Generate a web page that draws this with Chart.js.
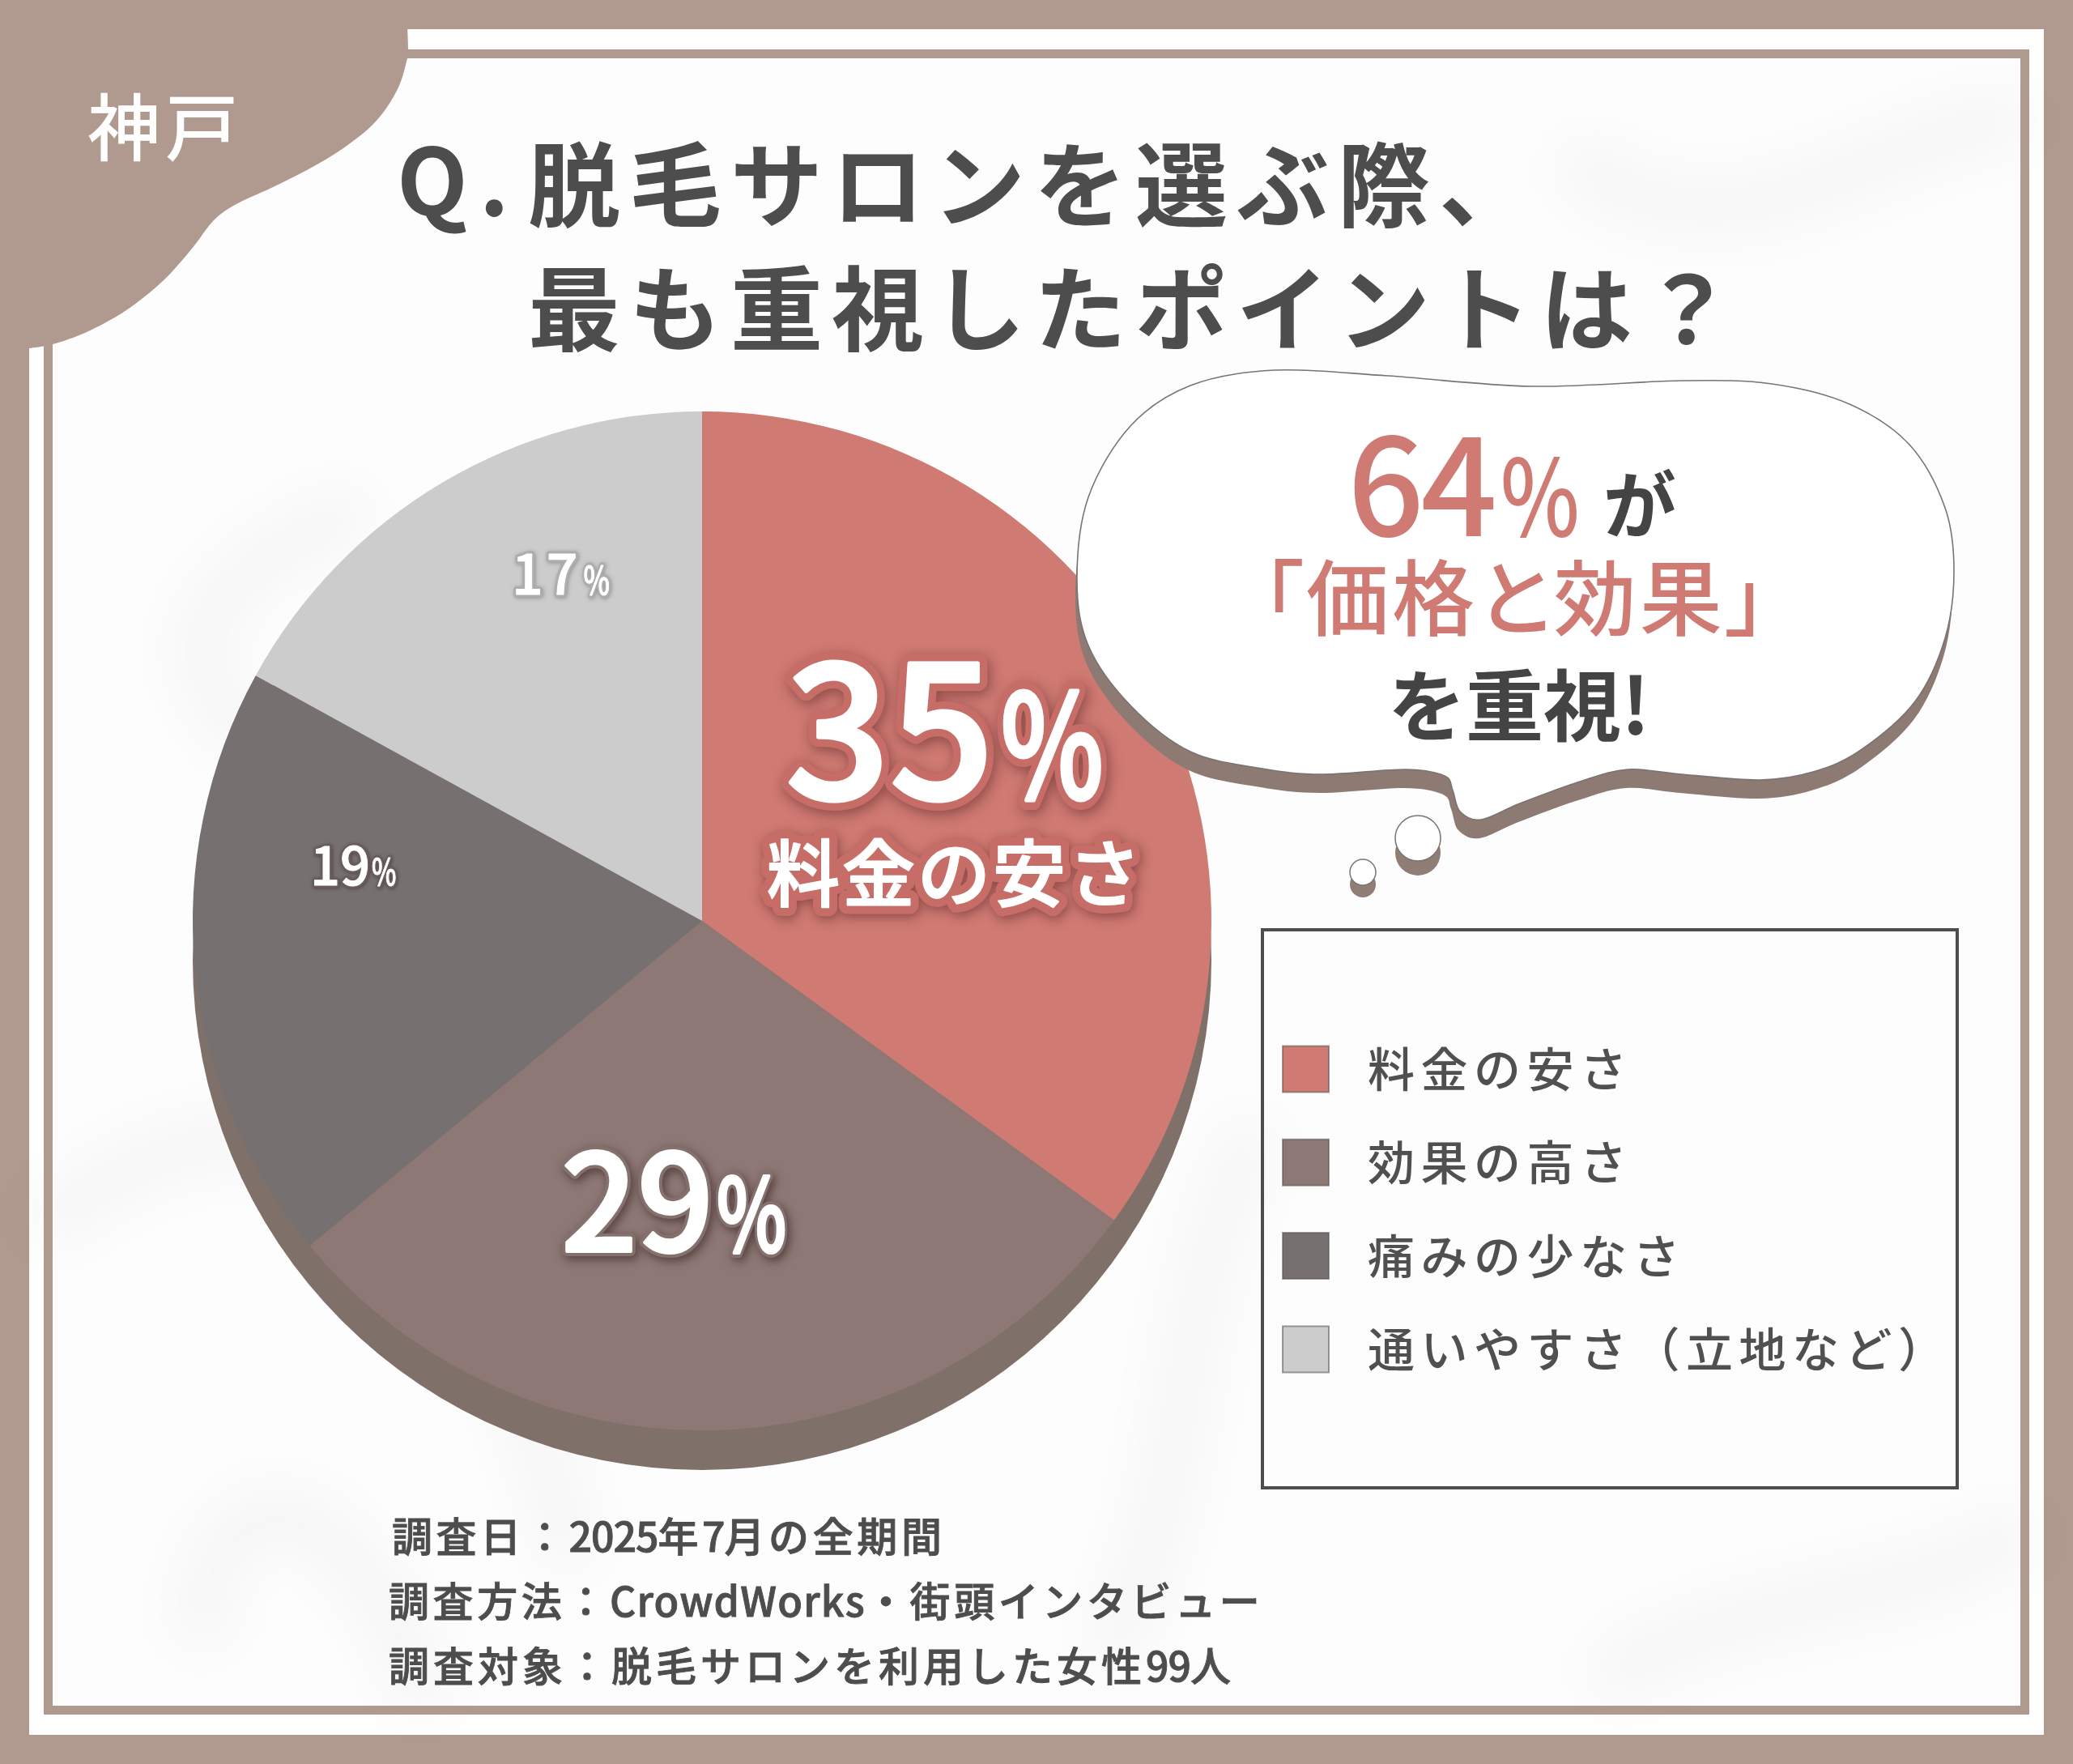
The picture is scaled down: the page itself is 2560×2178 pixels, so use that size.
<!DOCTYPE html>
<html lang="ja">
<head>
<meta charset="utf-8">
<title>脱毛サロン 神戸</title>
<script src="https://cdn.jsdelivr.net/npm/chart.js@4"></script>
<style>
html,body{margin:0;padding:0;background:#b09a90;}
#stage{position:relative;width:2560px;height:2178px;overflow:hidden;background:#b09a90;font-family:"Noto Sans CJK JP",sans-serif;}
#bg,#over{position:absolute;left:0;top:0;width:2560px;height:2178px;}
#c{position:absolute;left:0;top:0;}
.t{position:absolute;white-space:nowrap;line-height:1;}
.title{font-size:114px;font-weight:700;color:#4d4d4d;letter-spacing:11px;}
.foot{font-size:50px;font-weight:500;color:#4d4d4d;letter-spacing:4.6px;-webkit-text-stroke:.9px #4d4d4d;}
.foot b{font-weight:500;letter-spacing:-1px;}
.foot i{font-style:normal;letter-spacing:1.2px;}
.pink{color:#cf7a72;}
.dark{color:#444;}
</style>
</head>
<body>
<div id="stage">
<svg id="bg" viewBox="0 0 2560 2178">
  <defs>
    <filter id="blur" x="-30%" y="-30%" width="160%" height="160%"><feGaussianBlur stdDeviation="30"/></filter>
  </defs>
  <rect x="36" y="36" width="2488" height="2106" fill="#fefefe"/>
  <rect x="65" y="72" width="2430" height="2034" fill="#fdfdfd"/>
  <g filter="url(#blur)" fill="none" stroke="#000" stroke-opacity="0.028" stroke-width="70" stroke-linecap="round">
    <path d="M70 1500 C 300 1330, 560 1360, 700 1900"/>
    <path d="M250 2000 C 260 1850, 400 1780, 520 2080"/>
    <path d="M300 900 C 200 800, 250 720, 420 640"/>
    <path d="M1960 210 C 2150 330, 2300 180, 2470 150"/>
    <path d="M1380 2020 C 1480 1800, 1440 1650, 1540 1420"/>
    <path d="M2000 2060 C 2200 1960, 2350 1980, 2480 1900"/>
  </g>
  <g fill="none" stroke="#b09a90">
    <rect x="59.5" y="66.5" width="2441" height="2045" stroke-width="11"/>
  </g>
</svg>
<canvas id="c" width="2560" height="2178"></canvas>
<svg id="over" viewBox="0 0 2560 2178">
  <path id="blob" fill="#b09a90"/>
  <path id="bubbleShade" fill="#8c7a73"/>
  <path id="bubble" fill="#ffffff" stroke="#7a7371" stroke-width="1.6"/>
  <circle cx="1751" cy="1053" r="28" fill="#8f7d76"/>
  <circle cx="1751" cy="1035" r="28" fill="#ffffff" stroke="#7a7371" stroke-width="1.5"/>
  <circle cx="1683" cy="1092" r="16" fill="#8f7d76"/>
  <circle cx="1683" cy="1077" r="16" fill="#ffffff" stroke="#7a7371" stroke-width="1.5"/>
</svg>

<div class="t" style="left:108px;top:107px;font-size:90px;font-weight:500;color:#fff;letter-spacing:6px;">神戸</div>

<div class="t title" style="left:490px;top:160px;letter-spacing:14px;">Q.</div>
<div class="t title" style="left:652px;top:165px;">脱毛サロンを選ぶ際、</div>
<div class="t title" style="left:652px;top:318px;">最も重視したポイントは？</div>

<div class="t pink" style="left:1664px;top:507px;font-size:166px;font-weight:500;letter-spacing:-4px;">64<span style="display:inline-block;font-size:130px;transform:scaleX(.8);transform-origin:left bottom;letter-spacing:0;margin-left:8px;width:88px;">%</span></div>
<div class="t dark" style="left:1980px;top:573px;font-size:90px;font-weight:700;">が</div>
<div class="t pink" style="left:1558px;top:682px;font-size:102px;font-weight:500;letter-spacing:4px;font-feature-settings:'palt';">「価格と効果」</div>
<div class="t dark" style="left:1714px;top:818px;font-size:96px;font-weight:700;">を重視!</div>

<div class="t foot" style="left:484px;top:1869px;">調査日：<b>2025</b>年<b>7</b>月の全期間</div>
<div class="t foot" style="left:480px;top:1949px;">調査方法：<i>CrowdWorks</i>・街頭インタビュー</div>
<div class="t foot" style="left:480px;top:2029px;letter-spacing:5px;">調査対象：脱毛サロンを利用した女性<b>99</b>人</div>
</div>

<script>
const categories = ['料金の安さ', '効果の高さ', '痛みの少なさ', '通いやすさ（立地など）'];
const shareValues = [35, 29, 19, 17];
const sliceColors = ['#cf7a72', '#8d7875', '#767170', '#cccccc'];
const depthColor = '#80706a';
const depthOffset = 49;
const topLabel = '料金の安さ';

const labelStyle = [
  {dx:103, dy:-151, size:226, pctSize:178, pctScale:.76, gap:8, ls:0,  weight:500, fatten:5, halo:'#c56d66', haloW:24, shadow:'rgba(100,45,45,.6)', blur:16, ox:3, oy:5},
  {dx:-174, dy:408, size:165, pctSize:124, pctScale:.74, gap:4, ls:0,  weight:500, fatten:4, halo:'#84706d', haloW:12, shadow:'rgba(50,30,30,.65)', blur:12, ox:3, oy:4},
  {dx:-484, dy:-44, size:65,  pctSize:45,  pctScale:.72, gap:2, ls:0,  weight:500, fatten:1, halo:'#685c5c', haloW:6,  shadow:'rgba(60,40,40,.6)', blur:4, ox:1, oy:1},
  {dx:-235, dy:-403,size:68,  pctSize:48,  pctScale:.72, gap:3, ls:4,  weight:500, fatten:1, halo:'#adadad', haloW:7,  shadow:'rgba(90,90,90,.5)', blur:5, ox:1, oy:1}
];
const FONT = '"Noto Sans CJK JP", sans-serif';

const smooth = (p, closed) => {
  const n = p.length, at = i => closed ? p[(i + n) % n] : p[Math.max(0, Math.min(n - 1, i))];
  let d = 'M' + p[0][0] + ' ' + p[0][1];
  for (let i = 0; i < (closed ? n : n - 1); i++) {
    const a = at(i - 1), b = at(i), c = at(i + 1), e = at(i + 2);
    d += ' C' + (b[0] + (c[0] - a[0]) / 6) + ' ' + (b[1] + (c[1] - a[1]) / 6) + ',' +
         (c[0] - (e[0] - b[0]) / 6) + ' ' + (c[1] - (e[1] - b[1]) / 6) + ',' + c[0] + ' ' + c[1];
  }
  return d;
};
const blobEdge = [[503,30],[504,61],[503,72],[491,110],[464,150],[424,183],[379,210],[335,232],[290,253],[263,273],[237,307],[201,347],[156,383],[107,410],[65,425],[36,430]];
document.getElementById('blob').setAttribute('d', 'M0 0 L503 0 L' + smooth(blobEdge, false).slice(1) + ' L36 430 L0 432 Z');
const bubbleEdge = [[1574,457],[1714,464],[1892,477],[2077,470],[2188,474],[2284,499],[2358,549],[2402,627],[2413,705],[2402,788],[2365,866],[2298,926],[2239,953],[2173,963],[2077,956],[2010,950],[1951,965],[1877,992],[1829,1012],[1803,1002],[1794,976],[1784,958],[1736,950],[1633,956],[1559,949],[1470,928],[1396,871],[1344,797],[1330,715],[1344,614],[1396,526],[1470,476]];
const bubbleD = smooth(bubbleEdge, true) + ' Z';
document.getElementById('bubble').setAttribute('d', bubbleD);
const shade = document.getElementById('bubbleShade');
shade.setAttribute('d', bubbleD);
shade.setAttribute('transform', 'translate(-2 23)');

const depthPlugin = {
  id: 'depth',
  afterLayout(chart) {
    const a = chart.chartArea;
    a.left = 238; a.right = 1496; a.top = 508; a.bottom = 1766; a.width = 1258; a.height = 1258;
    const lg = chart.legend, pad = lg.options.labels.padding, colH = lg.columnSizes[0].height, firstRow = 1291;
    lg.left = 1584 - pad; lg.right = 2418; lg.top = firstRow - pad; lg.bottom = firstRow + colH;
  },
  beforeDraw(chart) {
    const ctx = chart.ctx;
    ctx.letterSpacing = '7.5px';
    ctx.save();
    ctx.strokeStyle = '#4d4d4d'; ctx.lineWidth = 4;
    ctx.strokeRect(1559, 1148, 858, 689);
    ctx.restore();
  },
  beforeDatasetsDraw(chart) {
    const ctx = chart.ctx, el = chart.getDatasetMeta(0).data[0];
    ctx.letterSpacing = '0px';
    ctx.save();
    ctx.fillStyle = depthColor;
    ctx.beginPath();
    ctx.arc(el.x, el.y + depthOffset, el.outerRadius, 0, Math.PI * 2);
    ctx.fill();
    ctx.restore();
  },
  afterDatasetsDraw(chart) {
    const ctx = chart.ctx, meta = chart.getDatasetMeta(0);
    shareValues.forEach((v, i) => {
      const s = labelStyle[i], el = meta.data[i], x = el.x + s.dx, y = el.y + s.dy;
      const parts = (op) => {
        ctx.letterSpacing = s.ls + 'px';
        ctx.font = s.weight + ' ' + s.size + 'px ' + FONT;
        const txt = String(v), w = ctx.measureText(txt).width;
        op(txt, x, y, 1);
        ctx.letterSpacing = '0px';
        ctx.font = s.weight + ' ' + s.pctSize + 'px ' + FONT;
        op('%', x + w + s.gap, y, s.pctScale);
      };
      ctx.save();
      ctx.textAlign = 'left'; ctx.textBaseline = 'alphabetic'; ctx.lineJoin = 'round'; ctx.lineCap = 'round';
      ctx.shadowColor = s.shadow; ctx.shadowBlur = s.blur; ctx.shadowOffsetX = s.ox; ctx.shadowOffsetY = s.oy;
      ctx.strokeStyle = s.halo; ctx.lineWidth = s.haloW;
      parts((t, px, py, sx) => { ctx.save(); ctx.translate(px, py); ctx.scale(sx, 1); ctx.strokeText(t, 0, 0); ctx.restore(); });
      ctx.shadowColor = 'transparent';
      ctx.fillStyle = '#fff'; ctx.strokeStyle = '#fff'; ctx.lineWidth = s.fatten;
      parts((t, px, py, sx) => { ctx.save(); ctx.translate(px, py); ctx.scale(sx, 1); ctx.fillText(t, 0, 0); ctx.strokeText(t, 0, 0); ctx.restore(); });
      ctx.restore();
    });
    const el0 = meta.data[0], cx = el0.x + 80, cy = el0.y - 25;
    ctx.save();
    ctx.font = '500 90px ' + FONT;
    ctx.letterSpacing = '3px';
    ctx.textBaseline = 'alphabetic'; ctx.lineJoin = 'round';
    ctx.shadowColor = 'rgba(100,45,45,.6)'; ctx.shadowBlur = 14; ctx.shadowOffsetX = 2; ctx.shadowOffsetY = 4;
    ctx.strokeStyle = '#c56d66'; ctx.lineWidth = 22;
    ctx.strokeText(topLabel, cx, cy);
    ctx.shadowColor = 'transparent';
    ctx.fillStyle = '#fff'; ctx.strokeStyle = '#fff'; ctx.lineWidth = 2;
    ctx.fillText(topLabel, cx, cy);
    ctx.strokeText(topLabel, cx, cy);
    ctx.restore();
  }
};

new Chart(document.getElementById('c'), {
  type: 'pie',
  data: { labels: categories, datasets: [{ data: shareValues, backgroundColor: sliceColors, borderWidth: 0 }] },
  options: {
    responsive: false,
    devicePixelRatio: 1,
    animation: false,
    layout: { padding: 0 },
    plugins: {
      tooltip: { enabled: false },
      legend: {
        position: 'right',
        labels: {
          boxWidth: 57, boxHeight: 57, padding: 57.3, color: '#505050',
          font: { size: 58, family: FONT, weight: '500' },
          generateLabels(chart) {
            return Chart.overrides.pie.plugins.legend.labels.generateLabels(chart).map(it => ({
              ...it, text: '\u2009' + it.text, lineWidth: 2, strokeStyle: 'rgba(90,80,80,.55)', fontColor: '#505050'
            }));
          }
        }
      }
    }
  },
  plugins: [depthPlugin]
});
</script>
</body>
</html>
